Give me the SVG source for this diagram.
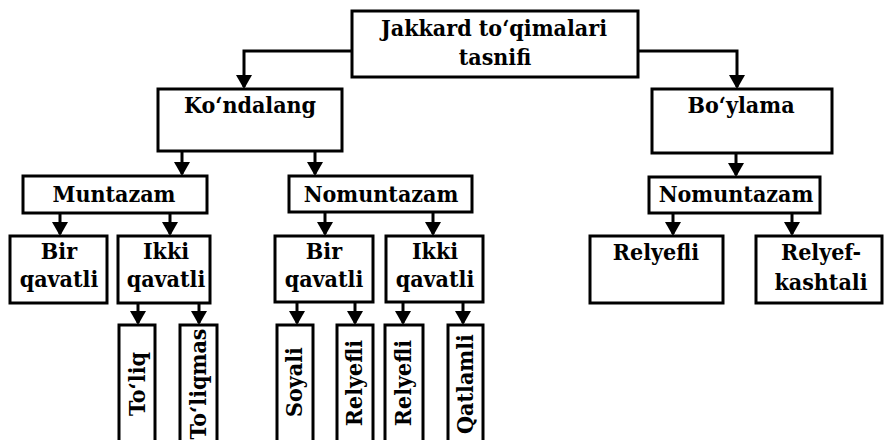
<svg xmlns="http://www.w3.org/2000/svg" width="884" height="440" viewBox="0 0 884 440">
  <style>
    .box { fill: #fff; stroke: #000; stroke-width: 3; }
    .lbl { font-family: 'DejaVu Serif Condensed', 'DejaVu Serif', 'Liberation Serif', serif; font-stretch: condensed; font-weight: bold; font-size: 23px; fill: #000; text-anchor: middle; }
    .wire { fill: none; stroke: #000; stroke-width: 3; }
  </style>
  <defs>
    <marker id="arrow" viewBox="0 0 14 16" refX="12" refY="8" markerWidth="14" markerHeight="16" markerUnits="userSpaceOnUse" orient="auto">
      <path d="M0,0 L14,8 L0,16 z" fill="#000"/>
    </marker>
  </defs>
  <rect width="884" height="440" fill="#fff"/>

  <!-- connectors -->
  <g id="connectors">
    <path class="wire" d="M352,51 H244 V87" marker-end="url(#arrow)"/>
    <path class="wire" d="M638,51 H737 V87" marker-end="url(#arrow)"/>
    <path class="wire" d="M182,151 V174" marker-end="url(#arrow)"/>
    <path class="wire" d="M315,151 V174" marker-end="url(#arrow)"/>
    <path class="wire" d="M736,153 V175" marker-end="url(#arrow)"/>
    <path class="wire" d="M60,213 V234" marker-end="url(#arrow)"/>
    <path class="wire" d="M170,213 V234" marker-end="url(#arrow)"/>
    <path class="wire" d="M325,212 V234" marker-end="url(#arrow)"/>
    <path class="wire" d="M433,212 V234" marker-end="url(#arrow)"/>
    <path class="wire" d="M673,213 V234" marker-end="url(#arrow)"/>
    <path class="wire" d="M792,213 V234" marker-end="url(#arrow)"/>
    <path class="wire" d="M138,303 V323" marker-end="url(#arrow)"/>
    <path class="wire" d="M199,303 V323" marker-end="url(#arrow)"/>
    <path class="wire" d="M297,302 V323" marker-end="url(#arrow)"/>
    <path class="wire" d="M355,302 V323" marker-end="url(#arrow)"/>
    <path class="wire" d="M403,302 V323" marker-end="url(#arrow)"/>
    <path class="wire" d="M463,302 V323" marker-end="url(#arrow)"/>
  </g>

  <!-- root -->
  <g id="root">
    <rect class="box" x="352" y="11" width="286" height="66"/>
    <text class="lbl" x="494" y="36">Jakkard to‘qimalari</text>
    <text class="lbl" x="495" y="65">tasnifi</text>
  </g>

  <!-- level 1 -->
  <g id="kondalang">
    <rect class="box" x="158" y="89" width="184" height="62"/>
    <text class="lbl" x="250" y="113">Ko‘ndalang</text>
  </g>
  <g id="boylama">
    <rect class="box" x="652" y="89" width="180" height="64"/>
    <text class="lbl" x="741" y="113">Bo‘ylama</text>
  </g>

  <!-- level 2 -->
  <g id="muntazam">
    <rect class="box" x="23" y="176" width="184" height="37"/>
    <text class="lbl" x="114" y="202">Muntazam</text>
  </g>
  <g id="nomuntazam-k">
    <rect class="box" x="289" y="176" width="183" height="36"/>
    <text class="lbl" x="381" y="202">Nomuntazam</text>
  </g>
  <g id="nomuntazam-b">
    <rect class="box" x="649" y="177" width="171" height="36"/>
    <text class="lbl" x="736" y="202">Nomuntazam</text>
  </g>

  <!-- level 3 -->
  <g id="bir-qavatli-m">
    <rect class="box" x="10" y="236" width="97" height="67"/>
    <text class="lbl" x="59" y="259">Bir</text>
    <text class="lbl" x="59" y="287">qavatli</text>
  </g>
  <g id="ikki-qavatli-m">
    <rect class="box" x="118" y="236" width="92" height="67"/>
    <text class="lbl" x="166" y="259">Ikki</text>
    <text class="lbl" x="166" y="287">qavatli</text>
  </g>
  <g id="bir-qavatli-n">
    <rect class="box" x="275" y="236" width="98" height="66"/>
    <text class="lbl" x="324" y="259">Bir</text>
    <text class="lbl" x="324" y="287">qavatli</text>
  </g>
  <g id="ikki-qavatli-n">
    <rect class="box" x="386" y="236" width="97" height="66"/>
    <text class="lbl" x="435" y="259">Ikki</text>
    <text class="lbl" x="435" y="287">qavatli</text>
  </g>
  <g id="relyefli-b">
    <rect class="box" x="590" y="236" width="133" height="67"/>
    <text class="lbl" x="656" y="260">Relyefli</text>
  </g>
  <g id="relyef-kashtali">
    <rect class="box" x="756" y="236" width="126" height="67"/>
    <text class="lbl" x="821" y="260">Relyef-</text>
    <text class="lbl" x="821" y="290">kashtali</text>
  </g>

  <!-- level 4: tall boxes with upright-reading labels -->
  <g id="toliq">
    <rect class="box" x="119" y="325" width="36" height="125"/>
    <text class="lbl" transform="translate(145,384) rotate(-90)">To‘liq</text>
  </g>
  <g id="toliqmas">
    <rect class="box" x="180" y="325" width="37" height="125"/>
    <text class="lbl" transform="translate(206,384) rotate(-90)">To‘liqmas</text>
  </g>
  <g id="soyali">
    <rect class="box" x="277" y="325" width="36" height="125"/>
    <text class="lbl" transform="translate(302,382) rotate(-90)">Soyali</text>
  </g>
  <g id="relyefli-1">
    <rect class="box" x="337" y="325" width="36" height="125"/>
    <text class="lbl" transform="translate(362,383) rotate(-90)">Relyefli</text>
  </g>
  <g id="relyefli-2">
    <rect class="box" x="385" y="325" width="38" height="125"/>
    <text class="lbl" transform="translate(411,383) rotate(-90)">Relyefli</text>
  </g>
  <g id="qatlamli">
    <rect class="box" x="448" y="325" width="35" height="125"/>
    <text class="lbl" transform="translate(473,384) rotate(-90)">Qatlamli</text>
  </g>
</svg>
